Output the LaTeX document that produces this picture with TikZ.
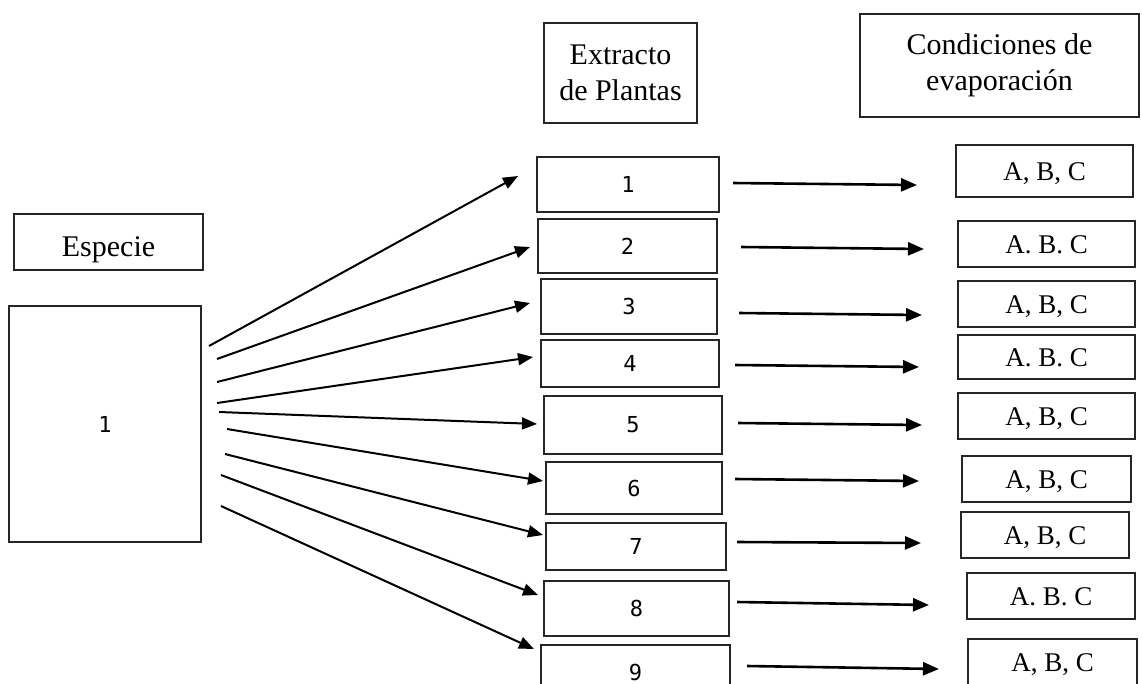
\documentclass[tikz,border=0pt]{standalone}
\usepackage{fontspec}
\setmainfont{Liberation Serif}
\newfontfamily\digitfont{DejaVu Sans Mono}
\usetikzlibrary{arrows.meta}
\tikzset{
  boxstyle/.style={draw=black!85, line width=1.5pt, inner sep=0pt, outer sep=0pt, fill=white},
  headtext/.style={font=\fontsize{30}{36}\selectfont, align=center},
  numtext/.style={font=\digitfont\fontsize{22}{24}\selectfont},
  abctext/.style={font=\fontsize{27}{30}\selectfont, text height=18pt, text depth=0pt},
  leftarrow/.style={line width=2pt, -{Triangle[length=15pt,width=12pt]}},
  rightarrow/.style={line width=2.6pt, -{Triangle[length=16pt,width=13pt]}},
}
\begin{document}
\begin{tikzpicture}[x=1pt,y=-1pt]
\useasboundingbox (0,0) rectangle (1142,683);
% headers
\node[boxstyle, headtext, text height=28pt, text depth=0pt, minimum width=189pt, minimum height=56pt] (especie) at (108.5,242) {Especie};
\node[boxstyle, headtext, minimum width=153pt, minimum height=100pt] (extracto) at (620.5,73) {Extracto\\de Plantas};
\node[boxstyle, headtext, minimum width=279pt, minimum height=103pt] (condiciones) at (999.5,65.5) {Condiciones de\\evaporación};
% species box
\node[boxstyle, numtext, minimum width=192pt, minimum height=236pt] (big) at (105,424) {1};
% middle boxes
\foreach \n/\l/\t/\r/\b in {1/537/157/719/212, 2/538/219/717/273, 3/541/279/717/334,
  4/541/340/719/387, 5/544/396/722/454, 6/546/462/722/514, 7/546/523/726/570,
  8/544/581/729/636, 9/541/645/730/700}
  \node[boxstyle, numtext, minimum width={\r-\l}, minimum height={\b-\t}] (m\n) at ({(\l+\r)/2},{(\t+\b)/2}) {\n};
% right boxes
\foreach \n/\l/\t/\r/\b/\txt in {1/956/145/1133/197/{A, B, C}, 2/958/221/1135/267/{A. B. C},
  3/958/281/1135/327/{A, B, C}, 4/958/335/1135/379/{A. B. C}, 5/958/393/1135/439/{A, B, C},
  6/962/456/1131/502/{A, B, C}, 7/961/512/1129/558/{A, B, C}, 8/967/573/1135/619/{A. B. C},
  9/968/639/1137/685/{A, B, C}}
  \node[boxstyle, abctext, minimum width={\r-\l}, minimum height={\b-\t}] (r\n) at ({(\l+\r)/2},{(\t+\b)/2}) {\txt};
% arrow end points
\foreach \n/\sx/\sy/\ex/\ey in {1/209/346/518/176, 2/217/359/530/247, 3/217/382/530/303,
  4/217/403/533/357, 5/219/412/537/424, 6/227/429/543/481, 7/225/454/543/535,
  8/221/475/538/595, 9/221/506/534/649}{
  \coordinate (ls\n) at (\sx,\sy);
  \coordinate (le\n) at (\ex,\ey);
}
\foreach \n/\sx/\sy/\ex/\ey in {1/733/183/917/185, 2/741/247/924/249, 3/739/313/922/315,
  4/735/365/919/367, 5/738/423/922/425, 6/735/479/919/481, 7/737/542/921/543,
  8/737/602/929/605, 9/747/666/939/669}{
  \coordinate (rs\n) at (\sx,\sy);
  \coordinate (re\n) at (\ex,\ey);
}
\foreach \n in {1,...,9}{
  \draw[leftarrow] (ls\n) -- (le\n);
  \draw[rightarrow] (rs\n) -- (re\n);
}
\end{tikzpicture}
\end{document}
